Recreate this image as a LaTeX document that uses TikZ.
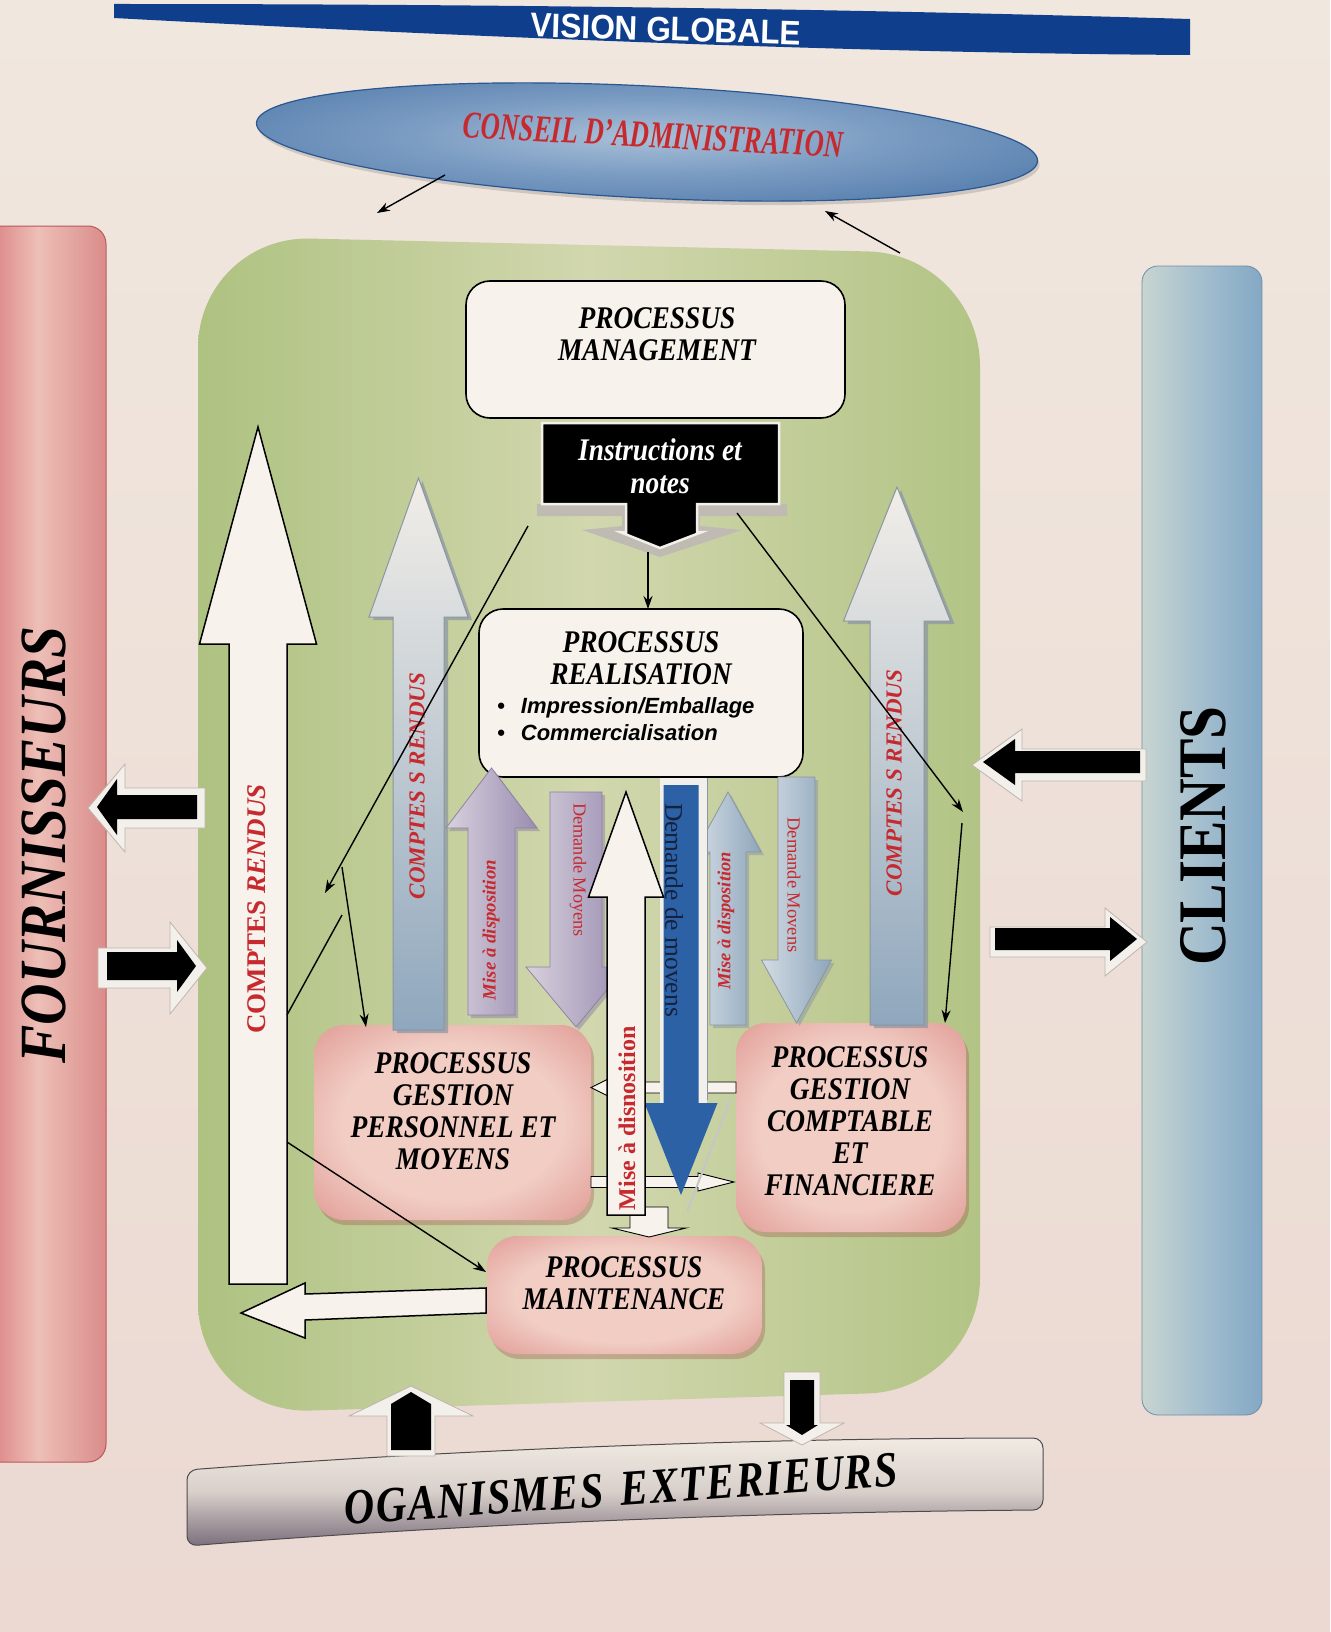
\documentclass[tikz,border=0pt]{standalone}
\usepackage{graphicx}
\usepackage{fontspec}
\setmainfont{Liberation Serif}
\newfontfamily\arialfont{Liberation Sans}
\newfontfamily\condserif[FakeStretch=0.87]{Liberation Serif}
\newfontfamily\narrowserif[FakeStretch=0.7]{Liberation Serif}
\newfontfamily\bannerserif[FakeStretch=0.84,LetterSpace=3]{Liberation Serif}
\usetikzlibrary{arrows.meta,shadows,shapes.geometric}

\definecolor{paperA}{HTML}{F0E7DE}
\definecolor{paperB}{HTML}{EBD9D2}
\definecolor{bandblue}{HTML}{0F3F8C}
\definecolor{txtred}{HTML}{C62A2F}
\definecolor{greenL}{HTML}{AEC281}
\definecolor{greenM}{HTML}{D2D7AE}
\definecolor{greenR}{HTML}{B2C485}
\definecolor{fourL}{HTML}{D46A6D}
\definecolor{fourM}{HTML}{EDBFB7}
\definecolor{fourR}{HTML}{DA8C8A}
\definecolor{fourEdge}{HTML}{B85A5C}
\definecolor{cliL}{HTML}{C8D5D0}
\definecolor{cliM}{HTML}{A3BECE}
\definecolor{cliR}{HTML}{84A8C5}
\definecolor{cliEdge}{HTML}{6F8EA8}
\definecolor{orgTop}{HTML}{F1EBE2}
\definecolor{orgMid}{HTML}{D8CFCA}
\definecolor{orgBot}{HTML}{7B6F7C}
\definecolor{boxwhite}{HTML}{F7F2EC}
\definecolor{pkin}{HTML}{F1CDC4}
\definecolor{pkout}{HTML}{D57C77}
\definecolor{pkshadow}{HTML}{A0544F}
\definecolor{ellin}{HTML}{A9C0D8}
\definecolor{ellmid}{HTML}{7C9DC3}
\definecolor{elldark}{HTML}{4C76A8}
\definecolor{ellout}{HTML}{2A5790}
\definecolor{cgTop}{HTML}{F2EEE8}
\definecolor{cgBot}{HTML}{8FA7BD}
\definecolor{cgEdge}{HTML}{8B95A3}
\definecolor{purL}{HTML}{D8D1DD}
\definecolor{purR}{HTML}{9A8DB1}
\definecolor{purEdge}{HTML}{8E82A3}
\definecolor{bgL}{HTML}{D3DCE3}
\definecolor{bgR}{HTML}{8EA6BC}
\definecolor{blueArrow}{HTML}{2C62A5}
\definecolor{navytxt}{HTML}{15223F}
\definecolor{ghost}{HTML}{F3EFEA}
\definecolor{ghostedge}{HTML}{BDB5AE}
\definecolor{instrshadow}{HTML}{BFBBB2}

\pgfdeclareradialshading{ellshade}{\pgfpoint{0bp}{0bp}}{color(0bp)=(ellin); color(15bp)=(ellmid); color(36bp)=(elldark); color(50bp)=(ellout)}
\pgfdeclareradialshading{pinkshade}{\pgfpoint{0bp}{0bp}}{color(0bp)=(pkin); color(20bp)=(pkin); color(46bp)=(pkout); color(80bp)=(pkout)}

% vertical block arrow: style, x centre, tail y, head-base y, tip y, body half width, head half width
\newcommand{\blockv}[7]{\path[#1] ({#2-#6},#3) -- ({#2-#6},#4) -- ({#2-#7},#4) -- (#2,#5) -- ({#2+#7},#4) -- ({#2+#6},#4) -- ({#2+#6},#3) -- cycle;}
% horizontal block arrow: style, y centre, tail x, head-base x, tip x, body half height, head half height
\newcommand{\blockh}[7]{\path[#1] (#3,{#2-#6}) -- (#4,{#2-#6}) -- (#4,{#2-#7}) -- (#5,#2) -- (#4,{#2+#7}) -- (#4,{#2+#6}) -- (#3,{#2+#6}) -- cycle;}

\begin{document}
\begin{tikzpicture}[x=1pt,y=-1pt,
  lbl/.style={font=\condserif\fontsize{31.5}{32}\selectfont\bfseries\itshape, align=center, inner sep=0pt},
  redlbl/.style={text=txtred, inner sep=0pt},
  conn/.style={line width=1.4pt, -{Stealth[length=13pt,width=9pt]}},
  plainline/.style={line width=1.4pt},
  ghostarrow/.style={fill=ghost, draw=ghostedge, line width=0.8pt},
  whitearrow/.style={fill=boxwhite, draw=black, line width=1.5pt},
  smallwhite/.style={fill=boxwhite, draw=black, line width=0.9pt},
  greyarrow/.style={top color=cgTop, bottom color=cgBot, draw=cgEdge, line width=1pt,
    drop shadow={shadow xshift=4pt, shadow yshift=-3pt, fill=cgEdge, opacity=0.7}},
  purarrow/.style={left color=purL, right color=purR, draw=purEdge, line width=0.8pt,
    drop shadow={shadow xshift=3pt, shadow yshift=-3pt, fill=purEdge, opacity=0.5}},
  bgarrow/.style={left color=bgL, right color=bgR, draw=cgEdge, line width=0.8pt,
    drop shadow={shadow xshift=3pt, shadow yshift=-3pt, fill=cgEdge, opacity=0.5}},
  whitebox/.style={draw=black, line width=1.6pt, fill=boxwhite, rounded corners=24pt, inner sep=0pt, outer sep=0pt},
  pinkbox/.style={shade, shading=pinkshade, rounded corners=30pt, inner sep=0pt, outer sep=0pt,
    drop shadow={shadow xshift=3pt, shadow yshift=-5pt, fill=pkshadow, opacity=0.35}}
]
\useasboundingbox (0,0) rectangle (1330,1632);

% paper
\path[top color=paperA, bottom color=paperB] (0,0) rectangle (1330,1632);

% title band
\fill[bandblue] (114,4) .. controls (500,4) and (850,9) .. (1190,19) -- (1190,55) .. controls (850,53) and (450,36) .. (114,18) -- cycle;
\node[text=white, font=\arialfont\bfseries\fontsize{34}{36}\selectfont, rotate=-1.8, inner sep=0pt] (title) at (666,29) {\scalebox{0.93}[1]{VISION GLOBALE}};

% board of directors
\node[ellipse, minimum width=782pt, minimum height=112pt, inner sep=0pt, rotate=-2.8,
      shade, shading=ellshade, draw=ellout, line width=1.2pt,
      drop shadow={shadow xshift=2pt, shadow yshift=-4pt, opacity=0.3}] (ca) at (647,142) {};
\node[text=txtred, font=\narrowserif\bfseries\itshape\fontsize{38}{40}\selectfont, rotate=-3, inner sep=0pt] (calbl) at (653,135) {CONSEIL D’ADMINISTRATION};

% company area
\path[left color=greenL, right color=greenR, middle color=greenM, rounded corners=112pt]
  (198,236) -- (980,254) -- (980,1390) -- (198,1414) -- cycle;

% suppliers
\path[left color=fourL, right color=fourR, middle color=fourM, draw=fourEdge, line width=1pt, rounded corners=18pt]
  (-30,226) -- (106,226) -- (106,1462) -- (-30,1462) -- cycle;
\node[font=\condserif\bfseries\itshape\fontsize{66}{68}\selectfont, rotate=90, inner sep=0pt] (fourn) at (44,845) {FOURNISSEURS};

% customers
\path[left color=cliL, right color=cliR, middle color=cliM, draw=cliEdge, line width=0.8pt, rounded corners=16pt]
  (1142,266) rectangle (1262,1415);
\node[font=\condserif\bfseries\fontsize{68}{70}\selectfont, rotate=90, inner sep=0pt] (cli) at (1203,836) {CLIENTS};

% external bodies
\path[top color=orgTop, bottom color=orgBot, middle color=orgMid, draw=black!70, line width=1pt, rounded corners=10pt]
  (187,1470) .. controls (450,1450) and (750,1438) .. (1043,1438) -- (1043,1510)
  .. controls (750,1512) and (450,1525) .. (187,1546) -- cycle;
\node[font=\bannerserif\bfseries\itshape\fontsize{50}{52}\selectfont, rotate=4, inner sep=0pt] (org) at (621,1489) {OGANISMES\hspace{0.35em}EXTERIEURS};

% black exchange arrows
\blockh{ghostarrow}{808}{205}{125}{88}{20}{44}
\blockh{fill=black}{807}{197}{117}{97}{12}{28}
\blockh{ghostarrow}{968}{98}{170}{207}{20}{46}
\blockh{fill=black}{966}{107}{177}{196}{14}{26}
\blockh{ghostarrow}{765}{1146}{1022}{972}{16}{36}
\blockh{fill=black}{762}{1140}{1015}{983}{11}{23}
\blockh{ghostarrow}{942}{990}{1105}{1147}{15}{34}
\blockh{fill=black}{939}{995}{1110}{1137}{11}{22}
\blockv{ghostarrow}{411}{1456}{1416}{1386}{24}{62}
\blockv{fill=black}{411}{1450}{1404}{1392}{20}{20}
\blockv{ghostarrow}{802}{1372}{1423}{1445}{18}{42}
\blockv{fill=black}{802}{1380}{1425}{1435}{12}{16}

% management
\node[whitebox, minimum width=379pt, minimum height=137pt] (mgmt) at (655.5,349.5) {};
\node[lbl] (mgmtlbl) at (657,334) {PROCESSUS\\MANAGEMENT};

% instructions block arrow
\fill[instrshadow] (537,504) -- (787,504) -- (787,516) -- (700,516) -- (700,526) -- (742,530) -- (660,557)
  -- (582,530) -- (622,526) -- (622,516) -- (537,516) -- cycle;
\path[fill=black, draw=ghost, line width=2.5pt] (542,423) -- (779,423) -- (779,504) -- (697,504) -- (697,532)
  -- (702,532) -- (660,548) -- (620,532) -- (626,532) -- (626,504) -- (542,504) -- cycle;
\node[text=white, font=\condserif\bfseries\itshape\fontsize{31.5}{33}\selectfont, align=center, inner sep=0pt] (instr) at (660,466) {Instructions et\\notes};
\coordinate (instrtip) at (648,552);

% production
\node[whitebox, minimum width=324pt, minimum height=168pt] (real) at (641,693) {};
\node[lbl] (reallbl) at (641,658) {PROCESSUS\\REALISATION};
\node[font=\arialfont\bfseries\itshape\fontsize{22}{27}\selectfont, align=left, anchor=west, inner sep=0pt] (realitems) at (497,719)
  {•\hspace{16pt}Impression/Emballage\\•\hspace{16pt}Commercialisation};

% white report arrows
\blockv{whitearrow}{258}{1284}{644}{427}{29}{58.5}
\path[whitearrow] (486,1288) -- (305,1294) -- (305,1283) -- (241,1313) -- (305,1338) -- (305,1320) -- (486,1313) -- cycle;

% support processes
\node[pinkbox, minimum width=277pt, minimum height=195pt] (pers) at (452.5,1122.5) {};
\node[pinkbox, minimum width=230pt, minimum height=209pt] (compt) at (851,1127.5) {};
\node[pinkbox, minimum width=275pt, minimum height=118pt] (maint) at (624.5,1295) {};
\node[lbl] (perslbl) at (453,1111) {PROCESSUS\\GESTION\\PERSONNEL ET\\MOYENS};
\node[lbl] (comptlbl) at (850,1121) {PROCESSUS\\GESTION\\COMPTABLE\\ET\\FINANCIERE};
\node[lbl] (maintlbl) at (624,1283) {PROCESSUS\\MAINTENANCE};

% small exchanges between the support processes
\blockh{smallwhite}{1087.5}{736}{609}{591}{5.5}{9}
\blockh{smallwhite}{1182}{591}{698}{734}{5.5}{9}

% report arrows
\blockv{greyarrow}{418.5}{1030}{617}{478}{25.5}{49.5}
\blockv{greyarrow}{897}{1025}{621}{487}{27}{53.5}

% means requests and provisions
\blockv{purarrow}{491.5}{1015}{828}{768}{23.5}{45.5}
\blockv{purarrow}{576}{792}{967}{1027}{26}{50}
\blockv{bgarrow}{728}{1025}{852}{792}{18}{33}
\blockv{bgarrow}{796.5}{777}{960}{1023}{18.5}{35}

% central request arrow
\draw[gray!45, line width=2pt] (730,1100) -- (687,1212);
\fill[ghost] (660,778) rectangle (707,1103);
\draw[cgEdge, line width=1pt] (707,778) -- (707,1100);
\blockv{fill=blueArrow}{681}{785}{1103}{1195}{17.5}{36.5}

% central provision arrow
\blockv{smallwhite}{649}{1207}{1228}{1237}{19}{37}
\blockv{whitearrow}{626}{1215}{897}{792}{19}{37.5}

% arrow labels
\node[redlbl, rotate=90, font=\bfseries\fontsize{27}{29}\selectfont] (crL) at (257,909) {COMPTES \textit{RENDUS}};
\node[redlbl, rotate=90, font=\bfseries\itshape\fontsize{23}{25}\selectfont] (csrL) at (417,786) {COMPTES S RENDUS};
\node[redlbl, rotate=90, font=\bfseries\itshape\fontsize{23}{25}\selectfont] (csrR) at (894,783) {COMPTES S RENDUS};
\node[redlbl, rotate=90, font=\bfseries\itshape\fontsize{18.8}{20}\selectfont] (mdL) at (491,930) {Mise à disposition};
\node[redlbl, rotate=-90, font=\fontsize{18.3}{20}\selectfont] (dmL) at (578,870) {Demande Moyens};
\node[redlbl, rotate=90, font=\bfseries\itshape\fontsize{18.5}{20}\selectfont] (mdR) at (726,921) {Mise à disposition};
\node[redlbl, rotate=-90, font=\fontsize{18.5}{20}\selectfont] (dmR) at (794,885) {Demande Movens};
\node[text=navytxt, rotate=-90, font=\fontsize{25.5}{27}\selectfont, inner sep=0pt] (ddm) at (674,910) {Demande de movens};
\node[redlbl, rotate=90, font=\bfseries\fontsize{24}{26}\selectfont] (mdC) at (627,1118) {Mise à disnosition};

% thin connectors
\coordinate (la1) at (528,526);  \coordinate (la2) at (325,893);
\coordinate (lb1) at (287,1015); \coordinate (lb2) at (342,915);
\coordinate (lc1) at (342,867);  \coordinate (lc2) at (366,1027);
\coordinate (ld1) at (737,513);  \coordinate (ld2) at (963,812);
\coordinate (le1) at (962,823);  \coordinate (le2) at (945,1023);
\coordinate (lf1) at (287,1142); \coordinate (lf2) at (486,1272);
\coordinate (ea1) at (445,175);  \coordinate (ea2) at (377,213);
\coordinate (eb1) at (900,253);  \coordinate (eb2) at (825,211);

\draw[conn] (instrtip) -- (real.north -| instrtip);
\draw[conn] (la1) -- (la2);
\draw[plainline] (lb1) -- (lb2);
\draw[conn] (lc1) -- (lc2);
\draw[conn] (ld1) -- (ld2);
\draw[conn] (le1) -- (le2);
\draw[conn] (lf1) -- (lf2);
\draw[conn] (ea1) -- (ea2);
\draw[conn] (eb1) -- (eb2);
\end{tikzpicture}
\end{document}
